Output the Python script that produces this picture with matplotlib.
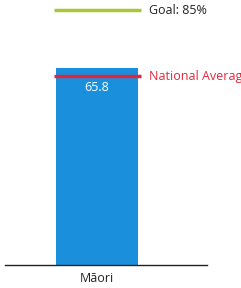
import matplotlib
matplotlib.use("Agg")
import matplotlib.pyplot as plt

categories = ["Māori"]
values = [65.8]
goal = 85
national_average = 63.0

plt.rcParams['font.family'] = ['Open Sans', 'DejaVu Sans']

fig = plt.figure(figsize=(2.41, 2.88), dpi=100)
ax = fig.add_axes([5/241, 23/288, 202/241, 265/288])
ax.bar(range(len(categories)), values, width=1.0, color="#1a8fdc", zorder=2)
ax.set_xlim(-1.122, 1.341)
ax.set_ylim(0, 88.5)

ax.plot([-0.53, 0.54], [goal, goal], color="#a8c83a", lw=2.5, solid_capstyle="butt", zorder=3)
ax.plot([-0.53, 0.54], [national_average, national_average], color="#e2273c", lw=2.5, solid_capstyle="butt", zorder=3)
ax.text(0.63, goal, f"Goal: {goal}%", color="#222222", fontsize=9, va="center", ha="left", clip_on=False)
ax.text(0.63, national_average, "National Average", color="#e2273c", fontsize=9, va="center", ha="left", clip_on=False)
for i, v in enumerate(values):
    ax.text(i, v - 6.5, f"{v:.1f}", color="white", fontsize=9, ha="center", va="center", zorder=4)

for s in ["top", "right", "left"]:
    ax.spines[s].set_visible(False)
ax.spines["bottom"].set_color("#222222")
ax.spines["bottom"].set_linewidth(1.0)
ax.set_yticks([])
ax.set_xticks(range(len(categories)))
ax.set_xticklabels(categories, fontsize=9, color="#222222")
ax.tick_params(axis="x", length=0, pad=5)

fig.savefig("out.png", dpi=100)
